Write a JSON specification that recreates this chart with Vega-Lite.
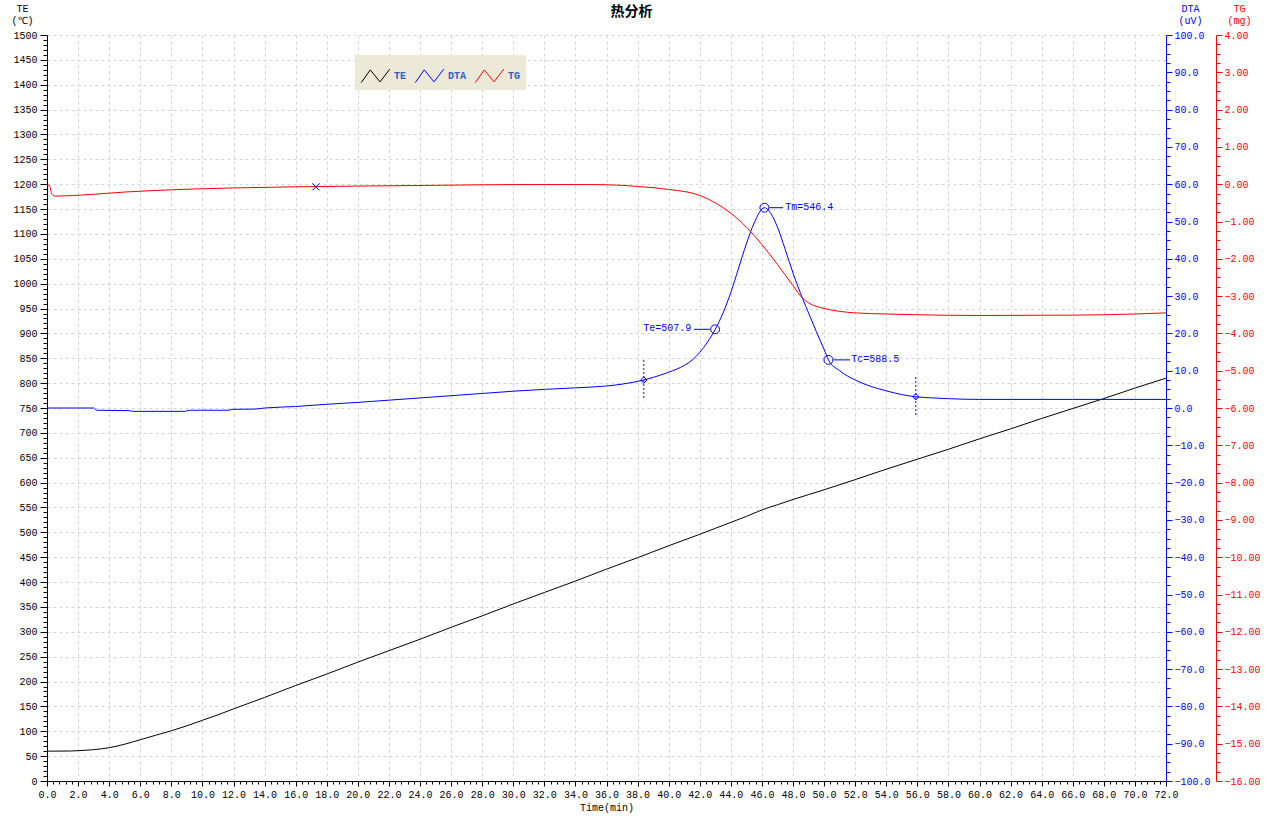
{
  "$schema": "https://vega.github.io/schema/vega-lite/v6.json",
  "width": 1119,
  "height": 746,
  "autosize": {"type": "none"},
  "padding": {"left": 47, "top": 35, "right": 101, "bottom": 42},
  "background": "white",
  "title": {"text": "热分析", "font": "Noto Sans CJK SC", "fontSize": 14, "fontWeight": "bold", "color": "black", "anchor": "middle", "frame": "group", "dx": 25, "offset": -16},
  "config": {
    "view": {"stroke": null},
    "font": "Liberation Mono",
    "axis": {"labelFont": "Liberation Mono", "labelFontSize": 10, "titleFont": "Liberation Mono", "titleFontSize": 10, "titleFontWeight": "normal", "labelFlush": false, "labelOverlap": false, "labelBound": false}
  },
  "datasets": {
    "te": [{"t":0,"v":60},{"t":1.5,"v":60.3},{"t":2,"v":61},{"t":3,"v":63},{"t":4,"v":67},{"t":5,"v":74},{"t":6,"v":83},{"t":7,"v":92},{"t":8,"v":101},{"t":9,"v":111},{"t":10,"v":122},{"t":11,"v":133},{"t":12,"v":145},{"t":14,"v":168},{"t":16,"v":192},{"t":18,"v":215},{"t":20,"v":239},{"t":22,"v":262},{"t":24,"v":285},{"t":26,"v":309},{"t":28,"v":332},{"t":30,"v":356},{"t":32,"v":379},{"t":34,"v":402},{"t":36,"v":426},{"t":38,"v":449},{"t":40,"v":473},{"t":42,"v":496},{"t":43,"v":508},{"t":44,"v":520},{"t":45,"v":532},{"t":46,"v":545},{"t":46.5,"v":550.5},{"t":47,"v":555.5},{"t":48,"v":566},{"t":50,"v":585.5},{"t":52,"v":606},{"t":54,"v":627},{"t":56,"v":647},{"t":58,"v":667},{"t":60,"v":688},{"t":62,"v":708},{"t":64,"v":729},{"t":66,"v":749},{"t":68,"v":769},{"t":70,"v":790},{"t":72,"v":810}],
    "dta": [{"t":0,"v":0},{"t":3,"v":0},{"t":3.2,"v":-0.6},{"t":5.3,"v":-0.7},{"t":5.5,"v":-0.9},{"t":8.9,"v":-0.9},{"t":9.1,"v":-0.6},{"t":11.7,"v":-0.6},{"t":11.9,"v":-0.35},{"t":13.3,"v":-0.3},{"t":14,"v":0},{"t":16,"v":0.4},{"t":18,"v":1.0},{"t":20,"v":1.5},{"t":22,"v":2.1},{"t":24,"v":2.7},{"t":26,"v":3.3},{"t":28,"v":3.9},{"t":30,"v":4.5},{"t":32,"v":5.0},{"t":34,"v":5.4},{"t":36,"v":5.9},{"t":37,"v":6.4},{"t":38.4,"v":7.5},{"t":39,"v":8.2},{"t":40,"v":9.6},{"t":41,"v":11.4},{"t":41.5,"v":12.8},{"t":42,"v":14.9},{"t":42.5,"v":17.7},{"t":43,"v":21.1},{"t":43.5,"v":25.5},{"t":44,"v":31},{"t":44.5,"v":37.5},{"t":45,"v":44},{"t":45.5,"v":49.6},{"t":46.16,"v":53.7},{"t":46.6,"v":52},{"t":47,"v":48.5},{"t":47.5,"v":42.5},{"t":48,"v":36.2},{"t":48.65,"v":29},{"t":49,"v":25.5},{"t":49.5,"v":20.5},{"t":50,"v":15.7},{"t":50.28,"v":12.9},{"t":51,"v":10.0},{"t":52,"v":7.5},{"t":53,"v":5.8},{"t":54,"v":4.6},{"t":55,"v":3.6},{"t":55.9,"v":3.0},{"t":57,"v":2.7},{"t":58,"v":2.5},{"t":60,"v":2.3},{"t":66,"v":2.3},{"t":72,"v":2.3}],
    "tg": [{"t":0,"v":-0.02},{"t":0.15,"v":-0.03},{"t":0.3,"v":-0.25},{"t":0.5,"v":-0.32},{"t":1.3,"v":-0.31},{"t":3,"v":-0.27},{"t":5,"v":-0.21},{"t":8,"v":-0.15},{"t":12,"v":-0.1},{"t":16,"v":-0.07},{"t":20,"v":-0.05},{"t":25,"v":-0.03},{"t":30,"v":-0.01},{"t":35,"v":-0.01},{"t":37,"v":-0.03},{"t":38,"v":-0.06},{"t":40,"v":-0.14},{"t":42,"v":-0.3},{"t":43,"v":-0.5},{"t":44,"v":-0.78},{"t":45,"v":-1.15},{"t":46,"v":-1.62},{"t":47,"v":-2.15},{"t":48,"v":-2.72},{"t":48.6,"v":-3.05},{"t":49,"v":-3.18},{"t":50,"v":-3.33},{"t":51,"v":-3.41},{"t":52,"v":-3.45},{"t":54,"v":-3.48},{"t":56,"v":-3.5},{"t":60,"v":-3.52},{"t":66,"v":-3.51},{"t":70,"v":-3.48},{"t":72,"v":-3.45}],
    "circles": [{"t":42.99,"v":21.1},{"t":46.16,"v":53.7},{"t":50.28,"v":12.9}],
    "diamonds": [{"t":38.4,"v":7.5},{"t":55.9,"v":3.0}],
    "vlines": [{"t":38.4,"v":12.9,"v2":2.1},{"t":55.9,"v":8.3,"v2":-2.4}],
    "connectors": [{"t":41.63,"t2":42.66,"v":21.1},{"t":46.48,"t2":47.36,"v":53.7},{"t":50.6,"t2":51.67,"v":12.9}],
    "labels_right": [{"t":41.45,"v":21.1,"label":"Te=507.9"}],
    "labels_left": [{"t":47.5,"v":53.7,"label":"Tm=546.4"},{"t":51.75,"v":12.9,"label":"Tc=588.5"}],
    "tgmark": [{"t":17.3,"v":-0.07}]
  },
  "resolve": {"scale": {"y": "independent"}},
  "encoding": {
    "x": {"field": "t", "type": "quantitative", "scale": {"domain": [0, 72], "nice": false, "zero": false},
      "axis": {"orient": "bottom",
        "values": [0,0.4,0.8,1.2,1.6,2,2.4,2.8,3.2,3.6,4,4.4,4.8,5.2,5.6,6,6.4,6.8,7.2,7.6,8,8.4,8.8,9.2,9.6,10,10.4,10.8,11.2,11.6,12,12.4,12.8,13.2,13.6,14,14.4,14.8,15.2,15.6,16,16.4,16.8,17.2,17.6,18,18.4,18.8,19.2,19.6,20,20.4,20.8,21.2,21.6,22,22.4,22.8,23.2,23.6,24,24.4,24.8,25.2,25.6,26,26.4,26.8,27.2,27.6,28,28.4,28.8,29.2,29.6,30,30.4,30.8,31.2,31.6,32,32.4,32.8,33.2,33.6,34,34.4,34.8,35.2,35.6,36,36.4,36.8,37.2,37.6,38,38.4,38.8,39.2,39.6,40,40.4,40.8,41.2,41.6,42,42.4,42.8,43.2,43.6,44,44.4,44.8,45.2,45.6,46,46.4,46.8,47.2,47.6,48,48.4,48.8,49.2,49.6,50,50.4,50.8,51.2,51.6,52,52.4,52.8,53.2,53.6,54,54.4,54.8,55.2,55.6,56,56.4,56.8,57.2,57.6,58,58.4,58.8,59.2,59.6,60,60.4,60.8,61.2,61.6,62,62.4,62.8,63.2,63.6,64,64.4,64.8,65.2,65.6,66,66.4,66.8,67.2,67.6,68,68.4,68.8,69.2,69.6,70,70.4,70.8,71.2,71.6,72],
        "format": ".1f",
        "labelExpr": "datum.value % 2 === 0 ? datum.label : ''",
        "tickSize": {"condition": {"test": "datum.value % 2 === 0", "value": 5}, "value": 3},
        "grid": true, "gridColor": "#d4d4d4", "gridDash": [3, 3],
        "gridOpacity": {"condition": {"test": "datum.value % 2 === 0", "value": 1}, "value": 0},
        "domainColor": "black", "tickColor": "black", "labelColor": "black", "labelPadding": 3,
        "title": "Time(min)", "titlePadding": 3, "titleColor": "black"}}
  },
  "layer": [
    {
      "data": {"name": "te"},
      "mark": {"type": "line", "strokeWidth": 1, "interpolate": "monotone"},
      "encoding": {
        "y": {"field": "v", "type": "quantitative", "scale": {"domain": [0, 1500], "nice": false},
          "axis": {"orient": "left", "tickCount": 150, "format": "d",
            "labelExpr": "datum.value % 50 === 0 ? datum.label : ''",
            "tickSize": {"condition": {"test": "datum.value % 50 === 0", "value": 7}, "value": 4},
            "grid": true, "gridColor": "#d4d4d4", "gridDash": [3, 3],
            "gridOpacity": {"condition": {"test": "datum.value % 50 === 0", "value": 1}, "value": 0},
            "domainColor": "black", "tickColor": "black", "labelColor": "black", "labelPadding": 3,
            "title": ["TE", "(℃)"], "titleAngle": 0, "titleAlign": "center", "titleBaseline": "top",
            "titleX": -25, "titleY": -32, "titleLineHeight": 12, "titleColor": "black"}},
        "color": {"datum": "TE", "type": "nominal",
          "scale": {"domain": ["TE", "DTA", "TG"], "range": ["#000000", "#0000ff", "#ff0000"]},
          "legend": {"orient": "none", "legendX": 308, "legendY": 20, "direction": "horizontal", "title": null,
            "fillColor": "#ECE9D8", "padding": 5, "symbolSize": 900,
            "symbolType": "M-0.95,0.45L-0.35,-0.4L0.3,0.4L0.95,-0.45",
            "symbolStrokeWidth": 1, "symbolFillColor": "transparent",
            "labelFont": "Liberation Mono", "labelFontSize": 10, "labelFontWeight": "bold", "labelColor": "#2b62c8",
            "labelOffset": 3, "columnPadding": 6}}
      }
    },
    {
      "encoding": {
        "y": {"field": "v", "type": "quantitative", "scale": {"domain": [-100, 100], "nice": false},
          "axis": {"orient": "right",
            "values": [-100,-97.5,-95,-92.5,-90,-87.5,-85,-82.5,-80,-77.5,-75,-72.5,-70,-67.5,-65,-62.5,-60,-57.5,-55,-52.5,-50,-47.5,-45,-42.5,-40,-37.5,-35,-32.5,-30,-27.5,-25,-22.5,-20,-17.5,-15,-12.5,-10,-7.5,-5,-2.5,0,2.5,5,7.5,10,12.5,15,17.5,20,22.5,25,27.5,30,32.5,35,37.5,40,42.5,45,47.5,50,52.5,55,57.5,60,62.5,65,67.5,70,72.5,75,77.5,80,82.5,85,87.5,90,92.5,95,97.5,100],
            "format": ".1f",
            "labelExpr": "datum.value % 10 === 0 ? datum.label : ''",
            "tickSize": {"condition": {"test": "datum.value % 10 === 0", "value": 6}, "value": 4},
            "grid": false, "domainColor": "#0000ff", "tickColor": "#0000ff", "labelColor": "#0000ff", "labelPadding": 2,
            "title": ["DTA", "(uV)"], "titleAngle": 0, "titleAlign": "center", "titleBaseline": "top",
            "titleX": 24, "titleY": -32, "titleLineHeight": 12, "titleColor": "#0000ff"}}
      },
      "layer": [
        {
          "data": {"name": "dta"},
          "mark": {"type": "line", "strokeWidth": 1, "interpolate": "monotone"},
          "encoding": {"color": {"datum": "DTA", "type": "nominal"}}
        },
        {
          "data": {"name": "vlines"},
          "mark": {"type": "rule", "color": "#0000ff", "strokeWidth": 1, "strokeDash": [2, 2]},
          "encoding": {"y2": {"field": "v2"}}
        },
        {
          "data": {"name": "connectors"},
          "mark": {"type": "rule", "color": "#0000ff", "strokeWidth": 1},
          "encoding": {"x2": {"field": "t2"}}
        },
        {
          "data": {"name": "circles"},
          "mark": {"type": "point", "shape": "circle", "filled": false, "color": "#0000ff", "strokeWidth": 1, "size": 80, "opacity": 1},
          "encoding": {}
        },
        {
          "data": {"name": "diamonds"},
          "mark": {"type": "point", "shape": "diamond", "filled": false, "color": "#0000ff", "strokeWidth": 1, "size": 40, "opacity": 1},
          "encoding": {}
        },
        {
          "data": {"name": "labels_right"},
          "mark": {"type": "text", "align": "right", "baseline": "middle", "dy": -1, "font": "Liberation Mono", "fontSize": 10, "color": "#0000ff"},
          "encoding": {"text": {"field": "label"}}
        },
        {
          "data": {"name": "labels_left"},
          "mark": {"type": "text", "align": "left", "baseline": "middle", "dy": -1, "font": "Liberation Mono", "fontSize": 10, "color": "#0000ff"},
          "encoding": {"text": {"field": "label"}}
        }
      ]
    },
    {
      "encoding": {
        "y": {"field": "v", "type": "quantitative", "scale": {"domain": [-16, 4], "nice": false},
          "axis": {"orient": "right", "offset": 50,
            "values": [-16,-15.75,-15.5,-15.25,-15,-14.75,-14.5,-14.25,-14,-13.75,-13.5,-13.25,-13,-12.75,-12.5,-12.25,-12,-11.75,-11.5,-11.25,-11,-10.75,-10.5,-10.25,-10,-9.75,-9.5,-9.25,-9,-8.75,-8.5,-8.25,-8,-7.75,-7.5,-7.25,-7,-6.75,-6.5,-6.25,-6,-5.75,-5.5,-5.25,-5,-4.75,-4.5,-4.25,-4,-3.75,-3.5,-3.25,-3,-2.75,-2.5,-2.25,-2,-1.75,-1.5,-1.25,-1,-0.75,-0.5,-0.25,0,0.25,0.5,0.75,1,1.25,1.5,1.75,2,2.25,2.5,2.75,3,3.25,3.5,3.75,4],
            "format": ".2f",
            "labelExpr": "datum.value % 1 === 0 ? datum.label : ''",
            "tickSize": {"condition": {"test": "datum.value % 1 === 0", "value": 6}, "value": 4},
            "grid": false, "domainColor": "#ff0000", "tickColor": "#ff0000", "labelColor": "#ff0000", "labelPadding": 2,
            "title": ["TG", "(mg)"], "titleAngle": 0, "titleAlign": "center", "titleBaseline": "top",
            "titleX": 23, "titleY": -32, "titleLineHeight": 12, "titleColor": "#ff0000"}}
      },
      "layer": [
        {
          "data": {"name": "tg"},
          "mark": {"type": "line", "strokeWidth": 1, "interpolate": "monotone"},
          "encoding": {"color": {"datum": "TG", "type": "nominal"}}
        },
        {
          "data": {"name": "tgmark"},
          "mark": {"type": "point", "shape": "M-1,-1L1,1M-1,1L1,-1", "filled": false, "color": "#0000ff", "strokeWidth": 1, "size": 50, "opacity": 1},
          "encoding": {}
        }
      ]
    }
  ]
}
